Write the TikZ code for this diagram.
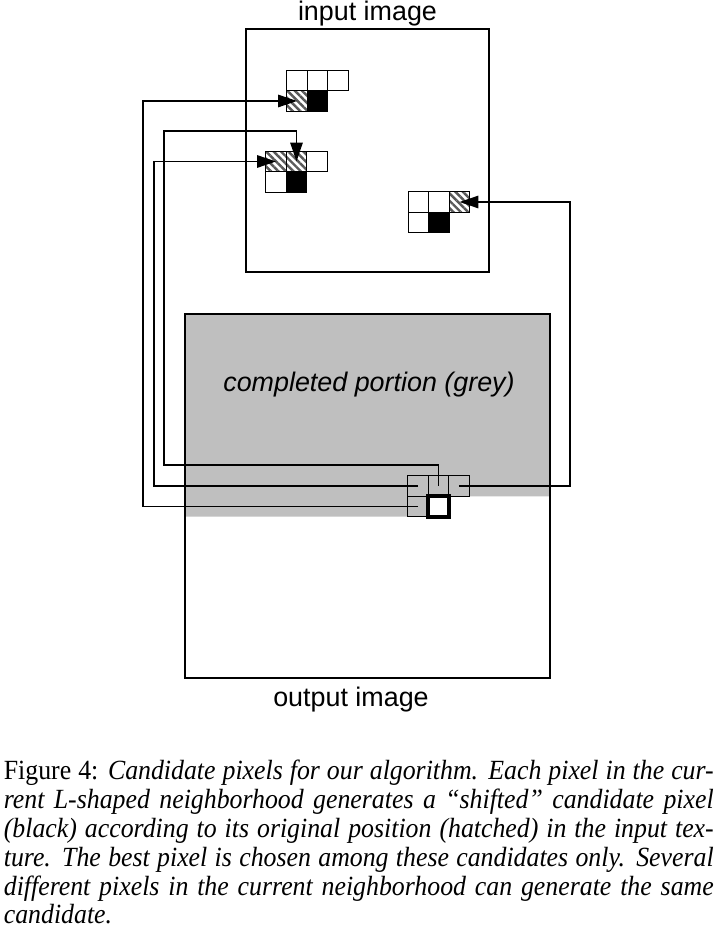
\documentclass[tikz,border=0pt]{standalone}
\usepackage{fontspec}
\setmainfont{Liberation Serif}
\setsansfont{Liberation Sans}
\newfontfamily\captionfont{Liberation Serif}[FakeStretch=0.93]
\usetikzlibrary{arrows.meta,positioning,patterns.meta,backgrounds}
\tikzset{
  imgbox/.style={
    draw,
    line width=1.3pt,
    inner sep=0pt,
    outer sep=0pt
  },
  cell/.style={
    draw,
    line width=0.6pt,
    minimum size=0.41cm,
    inner sep=0pt,
    outer sep=0pt
  },
  hatched/.style={
    cell,
    pattern={Lines[angle=-45,distance=3pt,line width=1.4pt]},
    pattern color=black!65
  },
  candidate/.style={cell, fill=black},
  current/.style={cell, line width=2.3pt, fill=white},
  imgname/.style={
    inner sep=0pt,
    font=\sffamily\fontsize{15.3}{18}\selectfont
  },
  greyname/.style={
    inner sep=0pt,
    font=\sffamily\itshape\fontsize{15.3}{18}\selectfont
  },
  captiontext/.style={
    text width=14.2cm,
    align=justify,
    inner sep=0pt,
    font=\captionfont\fontsize{15.8}{16.4}\selectfont
  },
  done/.style={fill=black!25},
  link/.style={-{Triangle[length=0.38cm,width=0.25cm]}, line width=0.8pt}
}

\begin{document}
\begin{tikzpicture}[x=0.02cm, y=-0.02cm]
  \useasboundingbox (0,0) rectangle (720,929);

  \node[imgbox, minimum width=4.86cm, minimum height=4.86cm] (input) at (367.5,150.5) {};
  \node[imgbox, minimum width=7.3cm, minimum height=7.28cm] (output) at (367.5,496) {};
  \node[imgname, above=0.06cm of input] (inlabel) {input image};
  \node[imgname, below=0.18cm of output, xshift=-0.33cm] (outlabel) {output image};
  \node[greyname, anchor=base] (greylabel) at (369,391.7) {completed portion (grey)};

  % patches in the input image
  \node[cell] (a1) at (297,80.5) {};
  \node[cell, right=0pt of a1] (a2) {};
  \node[cell, right=0pt of a2] (a3) {};
  \node[hatched, below=0pt of a1] (a4) {};
  \node[candidate, right=0pt of a4] (a5) {};

  \node[hatched] (b1) at (276,161.5) {};
  \node[hatched, right=0pt of b1] (b2) {};
  \node[cell, right=0pt of b2] (b3) {};
  \node[cell, below=0pt of b1] (b4) {};
  \node[candidate, right=0pt of b4] (b5) {};

  \node[cell] (c1) at (418.5,202) {};
  \node[cell, right=0pt of c1] (c2) {};
  \node[hatched, right=0pt of c2] (c3) {};
  \node[cell, below=0pt of c1] (c4) {};
  \node[candidate, right=0pt of c4] (c5) {};

  % current neighborhood in the output image
  \node[cell] (o1) at (418,486) {};
  \node[cell, right=0pt of o1] (o2) {};
  \node[cell, right=0pt of o2] (o3) {};
  \node[cell, below=0pt of o1] (o4) {};
  \node[current, right=0pt of o4] (o5) {};

  \begin{scope}[on background layer]
    \fill[done] (output.north west) -- (output.north east) -- (output.east |- o5.north)
      -- (o5.north west) -- (o5.south west) -- (output.west |- o5.south) -- cycle;
  \end{scope}

  \coordinate (rail1) at (143,0);
  \coordinate (rail2) at (154,0);
  \coordinate (rail3a) at (164,465);
  \coordinate (rail3b) at (164,131);
  \coordinate (rail4) at (570,0);

  \draw[link] (o4.center) -- (o4.center -| rail1) |- (a4.center);
  \draw[link] (o1.center) -- (o1.center -| rail2) |- (b1.center);
  \draw[link] (o2.center) |- (rail3a) -- (rail3b) -| (b2.center);
  \draw[link] (o3.center) -- (o3.center -| rail4) |- (c3.center);

  \node[captiontext, anchor=north west] (caption) at (3.5,760) {Figure 4: \textit{Candidate pixels for our algorithm. Each pixel in the cur-\linebreak rent L-shaped neighborhood generates a “shifted” candidate pixel\linebreak (black) according to its original position (hatched) in the input tex-\linebreak ture. The best pixel is chosen among these candidates only. Several\linebreak different pixels in the current neighborhood can generate the same\linebreak candidate.}};
\end{tikzpicture}
\end{document}
